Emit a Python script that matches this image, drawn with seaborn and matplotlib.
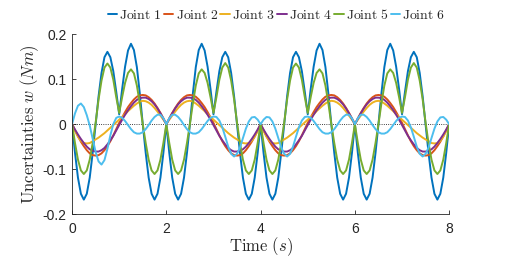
import numpy as np
import pandas as pd
import matplotlib
matplotlib.use('Agg')
import matplotlib.pyplot as plt
import seaborn as sns

# sample times (s), 1/16 s apart
time = np.linspace(0, 8, 129)

# values, one row per second
joint1 = [
    0, -0.064, -0.119, -0.155, -0.168, -0.155, -0.119, -0.064, 0, 0.062, 0.114, 0.149, 0.161, 0.149, 0.118, 0.072,
    0.022, 0.078, 0.128, 0.164, 0.179, 0.165, 0.127, 0.068, 0, -0.064, -0.119, -0.155, -0.168, -0.155, -0.119, -0.064,
    0, -0.064, -0.119, -0.155, -0.168, -0.155, -0.119, -0.064, 0, 0.068, 0.127, 0.165, 0.179, 0.164, 0.128, 0.078,
    0.022, 0.072, 0.118, 0.149, 0.161, 0.149, 0.114, 0.062, 0, -0.064, -0.119, -0.155, -0.168, -0.155, -0.119, -0.064,
    0, -0.064, -0.119, -0.155, -0.168, -0.155, -0.119, -0.064, 0, 0.062, 0.114, 0.149, 0.161, 0.149, 0.118, 0.072,
    0.022, 0.078, 0.128, 0.164, 0.179, 0.165, 0.127, 0.068, 0, -0.064, -0.119, -0.155, -0.168, -0.155, -0.119, -0.064,
    0, -0.064, -0.119, -0.155, -0.168, -0.155, -0.119, -0.064, 0, 0.068, 0.127, 0.165, 0.179, 0.164, 0.128, 0.078,
    0.022, 0.072, 0.118, 0.149, 0.161, 0.149, 0.114, 0.062, 0, -0.064, -0.119, -0.155, -0.168, -0.155, -0.119, -0.064,
    0]

joint2 = [
    0, -0.014, -0.027, -0.039, -0.049, -0.058, -0.065, -0.069, -0.070, -0.069, -0.065, -0.058, -0.049, -0.038, -0.025, -0.011,
    0.003, 0.015, 0.027, 0.038, 0.047, 0.055, 0.061, 0.064, 0.065, 0.064, 0.060, 0.054, 0.046, 0.036, 0.025, 0.013,
    0, 0.013, 0.025, 0.036, 0.046, 0.054, 0.060, 0.064, 0.065, 0.064, 0.061, 0.055, 0.047, 0.038, 0.027, 0.015,
    0.003, -0.011, -0.025, -0.038, -0.049, -0.058, -0.065, -0.069, -0.070, -0.069, -0.065, -0.058, -0.049, -0.039, -0.027, -0.014,
    0, -0.014, -0.027, -0.039, -0.049, -0.058, -0.065, -0.069, -0.070, -0.069, -0.065, -0.058, -0.049, -0.038, -0.025, -0.011,
    0.003, 0.015, 0.027, 0.038, 0.047, 0.055, 0.061, 0.064, 0.065, 0.064, 0.060, 0.054, 0.046, 0.036, 0.025, 0.013,
    0, 0.013, 0.025, 0.036, 0.046, 0.054, 0.060, 0.064, 0.065, 0.064, 0.061, 0.055, 0.047, 0.038, 0.027, 0.015,
    0.003, -0.011, -0.025, -0.038, -0.049, -0.058, -0.065, -0.069, -0.070, -0.069, -0.065, -0.058, -0.049, -0.039, -0.027, -0.014,
    0]

joint3 = [
    0, -0.015, -0.028, -0.037, -0.042, -0.043, -0.042, -0.038, -0.034, -0.030, -0.025, -0.020, -0.014, -0.008, -0.002, 0.004,
    0.010, 0.016, 0.022, 0.029, 0.035, 0.041, 0.046, 0.050, 0.052, 0.051, 0.048, 0.043, 0.036, 0.028, 0.019, 0.010,
    0, 0.010, 0.019, 0.028, 0.036, 0.043, 0.048, 0.051, 0.052, 0.050, 0.046, 0.041, 0.035, 0.029, 0.022, 0.016,
    0.010, 0.004, -0.002, -0.008, -0.014, -0.020, -0.025, -0.030, -0.034, -0.038, -0.042, -0.043, -0.042, -0.037, -0.028, -0.015,
    0, -0.015, -0.028, -0.037, -0.042, -0.043, -0.042, -0.038, -0.034, -0.030, -0.025, -0.020, -0.014, -0.008, -0.002, 0.004,
    0.010, 0.016, 0.022, 0.029, 0.035, 0.041, 0.046, 0.050, 0.052, 0.051, 0.048, 0.043, 0.036, 0.028, 0.019, 0.010,
    0, 0.010, 0.019, 0.028, 0.036, 0.043, 0.048, 0.051, 0.052, 0.050, 0.046, 0.041, 0.035, 0.029, 0.022, 0.016,
    0.010, 0.004, -0.002, -0.008, -0.014, -0.020, -0.025, -0.030, -0.034, -0.038, -0.042, -0.043, -0.042, -0.037, -0.028, -0.015,
    0]

joint4 = [
    0, -0.012, -0.023, -0.033, -0.042, -0.050, -0.056, -0.059, -0.061, -0.061, -0.058, -0.053, -0.045, -0.036, -0.026, -0.014,
    -0.002, 0.010, 0.021, 0.031, 0.040, 0.048, 0.054, 0.058, 0.059, 0.059, 0.056, 0.051, 0.044, 0.035, 0.024, 0.012,
    0, 0.012, 0.024, 0.035, 0.044, 0.051, 0.056, 0.059, 0.059, 0.058, 0.054, 0.048, 0.040, 0.031, 0.021, 0.010,
    -0.002, -0.014, -0.026, -0.036, -0.045, -0.053, -0.058, -0.061, -0.061, -0.059, -0.056, -0.050, -0.042, -0.033, -0.023, -0.012,
    0, -0.012, -0.023, -0.033, -0.042, -0.050, -0.056, -0.059, -0.061, -0.061, -0.058, -0.053, -0.045, -0.036, -0.026, -0.014,
    -0.002, 0.010, 0.021, 0.031, 0.040, 0.048, 0.054, 0.058, 0.059, 0.059, 0.056, 0.051, 0.044, 0.035, 0.024, 0.012,
    0, 0.012, 0.024, 0.035, 0.044, 0.051, 0.056, 0.059, 0.059, 0.058, 0.054, 0.048, 0.040, 0.031, 0.021, 0.010,
    -0.002, -0.014, -0.026, -0.036, -0.045, -0.053, -0.058, -0.061, -0.061, -0.059, -0.056, -0.050, -0.042, -0.033, -0.023, -0.012,
    0]

joint5 = [
    0, -0.042, -0.079, -0.103, -0.111, -0.103, -0.079, -0.042, 0.003, 0.055, 0.097, 0.126, 0.135, 0.126, 0.099, 0.060,
    0.025, 0.060, 0.092, 0.114, 0.122, 0.113, 0.086, 0.046, 0, -0.042, -0.079, -0.103, -0.111, -0.103, -0.079, -0.042,
    0, -0.042, -0.079, -0.103, -0.111, -0.103, -0.079, -0.042, 0, 0.046, 0.086, 0.113, 0.122, 0.114, 0.092, 0.060,
    0.025, 0.060, 0.099, 0.126, 0.136, 0.126, 0.097, 0.055, 0.003, -0.042, -0.079, -0.103, -0.111, -0.103, -0.079, -0.042,
    0, -0.042, -0.079, -0.103, -0.111, -0.103, -0.079, -0.042, 0.003, 0.055, 0.097, 0.126, 0.135, 0.126, 0.099, 0.060,
    0.025, 0.060, 0.092, 0.114, 0.122, 0.113, 0.086, 0.046, 0, -0.042, -0.079, -0.103, -0.111, -0.103, -0.079, -0.042,
    0, -0.042, -0.079, -0.103, -0.111, -0.103, -0.079, -0.042, 0, 0.046, 0.086, 0.113, 0.122, 0.114, 0.092, 0.060,
    0.025, 0.060, 0.099, 0.126, 0.136, 0.126, 0.097, 0.055, 0.003, -0.042, -0.079, -0.103, -0.111, -0.103, -0.079, -0.042,
    0]

joint6 = [
    0, 0.024, 0.041, 0.046, 0.038, 0.020, -0.003, -0.033, -0.062, -0.083, -0.090, -0.080, -0.055, -0.025, 0.000, 0.014,
    0.017, 0.014, 0.007, -0.002, -0.011, -0.018, -0.021, -0.021, -0.018, -0.011, -0.002, 0.008, 0.016, 0.021, 0.021, 0.013,
    0, 0.013, 0.021, 0.021, 0.016, 0.008, -0.002, -0.011, -0.018, -0.021, -0.021, -0.018, -0.011, -0.002, 0.007, 0.014,
    0.017, 0.016, 0.008, -0.007, -0.028, -0.050, -0.066, -0.072, -0.066, -0.052, -0.031, -0.010, 0.006, 0.015, 0.016, 0.010,
    0, 0.010, 0.016, 0.015, 0.006, -0.010, -0.031, -0.052, -0.066, -0.072, -0.066, -0.050, -0.028, -0.007, 0.008, 0.016,
    0.017, 0.014, 0.007, -0.002, -0.011, -0.018, -0.021, -0.021, -0.018, -0.011, -0.002, 0.008, 0.016, 0.021, 0.021, 0.013,
    0, 0.013, 0.021, 0.021, 0.016, 0.008, -0.002, -0.011, -0.018, -0.021, -0.021, -0.018, -0.011, -0.002, 0.007, 0.014,
    0.017, 0.016, 0.008, -0.007, -0.028, -0.050, -0.066, -0.072, -0.066, -0.052, -0.031, -0.010, 0.006, 0.015, 0.016, 0.010,
    0]

joints = ['Joint 1', 'Joint 2', 'Joint 3', 'Joint 4', 'Joint 5', 'Joint 6']
colors = ['#0072BD', '#D95319', '#EDB120', '#7E2F8E', '#77AC30', '#4DBEEE']
x_ticks = [0, 2, 4, 6, 8]
y_ticks = [-0.2, -0.1, 0, 0.1, 0.2]
y_tick_labels = ['-0.2', '-0.1', '0', '0.1', '0.2']


def build_frame():
    """Long table: one row per sample and joint."""
    series = [joint1, joint2, joint3, joint4, joint5, joint6]
    return pd.DataFrame({
        'time': np.tile(time, len(joints)),
        'value': np.concatenate([np.asarray(s, dtype=float) for s in series]),
        'joint': np.repeat(joints, len(time)),
    })


def main():
    df = build_frame()

    sns.set_style('ticks')
    plt.rcParams['font.family'] = ['Liberation Sans', 'DejaVu Sans']
    plt.rcParams['mathtext.fontset'] = 'cm'

    fig = plt.figure(figsize=(5.11, 2.67), dpi=100)
    ax = fig.add_axes([0.141, 0.1985, 0.738, 0.673])

    # dotted zero line
    ax.axhline(0, color='black', lw=0.6, ls=':', zorder=1)

    sns.lineplot(data=df, x='time', y='value', hue='joint', hue_order=joints,
                 palette=colors, linewidth=1.4, estimator=None, ax=ax)

    ax.set_xlim(0, 8)
    ax.set_ylim(-0.2, 0.2)
    ax.set_xticks(x_ticks)
    ax.set_yticks(y_ticks)
    ax.set_yticklabels(y_tick_labels)
    ax.tick_params(direction='in', length=3, width=0.6, labelsize=10,
                   colors='#262626')
    ax.tick_params(axis='x', pad=6)
    ax.tick_params(axis='y', pad=4)
    for side in ['top', 'right']:
        ax.spines[side].set_visible(False)
    for side in ['left', 'bottom']:
        ax.spines[side].set_linewidth(0.6)
        ax.spines[side].set_color('#262626')

    ax.set_xlabel(r'$\mathrm{Time}\ (s)$', fontsize=12, labelpad=-1, color='#262626')
    ax.set_ylabel(r'$\mathrm{Uncertainties}\ w\ (Nm)$', fontsize=12, labelpad=1,
                  color='#262626')

    # legend in one row above the axes
    handles, labels = ax.get_legend_handles_labels()
    ax.get_legend().remove()
    labels = [r'$\mathrm{Joint\ %s}$' % l.split()[-1] for l in labels]
    fig.legend(handles, labels, loc='center', bbox_to_anchor=(0.541, 0.944),
               ncol=6, frameon=False, fontsize=9.9, handlelength=0.7,
               handletextpad=0.15, columnspacing=0.15, borderaxespad=0)

    fig.savefig('out.png', dpi=100)


if __name__ == '__main__':
    main()
